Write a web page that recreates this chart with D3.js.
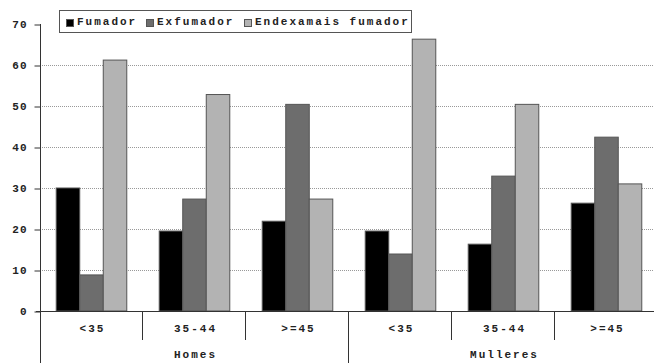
<!DOCTYPE html>
<html><head><meta charset="utf-8">
<script src="https://cdn.jsdelivr.net/npm/d3@7"></script>
<style>body{margin:0;background:#fff}svg{display:block}text{font-family:"Liberation Mono","DejaVu Sans Mono",monospace;font-weight:bold;fill:#222}</style>
</head><body><svg id="c" width="654" height="363"></svg>
<script>
const groups = ["Homes","Mulleres"];
const categories = ["<35","35-44",">=45"];
const series = ["Fumador","Exfumador","Endexamais fumador"];
const fumador =    [30.0, 19.5, 21.9, 19.5, 16.3, 26.3];
const exfumador =  [8.8, 27.3, 50.4, 13.9, 32.9, 42.4];
const endexamais = [61.2, 52.8, 27.3, 66.3, 50.4, 31.0];
const yTicks = [0,10,20,30,40,50,60,70];
const colors = ["#000000","#6d6d6d","#b3b3b3"];

(function(){
const svg = d3.select("#c");
const mLeft = 40, mRight = 658, mTop = 24, mBottom = 311, visRight = 654;
const y = d3.scaleLinear().domain([0,70]).range([mBottom, mTop]);
const keys = [];
groups.forEach(g => categories.forEach(c => keys.push(g + "|" + c)));
const x0 = d3.scaleBand().domain(keys).range([mLeft, mRight]).paddingInner(0).paddingOuter(0);
const x1 = d3.scaleBand().domain(series).range([0, x0.bandwidth()]).paddingInner(0).paddingOuter(0.69);

// gridlines
svg.append("g").selectAll("line").data(yTicks.filter(t => t > 0 && t < 70)).join("line")
  .attr("x1", mLeft).attr("x2", visRight).attr("y1", d => y(d)+0.5).attr("y2", d => y(d)+0.5)
  .attr("stroke", "#999").attr("stroke-width", 1).attr("stroke-dasharray", "1,1");

// bars
const data = [fumador, exfumador, endexamais];
keys.forEach((k, i) => {
  series.forEach((s, j) => {
    const v = data[j][i];
    svg.append("rect")
      .attr("x", x0(k) + x1(s)).attr("y", y(v))
      .attr("width", x1.bandwidth()).attr("height", y(0) - y(v))
      .attr("fill", colors[j]).attr("stroke", "#555").attr("stroke-width", 1);
  });
});

// y axis
const yAxis = d3.axisLeft(y).tickValues(yTicks).tickSize(6).tickPadding(7);
const ga = svg.append("g").attr("transform", `translate(${mLeft+0.5},0.5)`).call(yAxis);
ga.select(".domain").remove();
ga.selectAll(".tick line").attr("stroke", "#333");
ga.selectAll(".tick text").attr("font-size", 11).attr("dy", "0.25em")
  .style("font-family", '"Liberation Mono",monospace').style("font-weight","bold")
  .style("letter-spacing", "1px").attr("fill","#222");
svg.append("line").attr("x1", mLeft+0.5).attr("x2", mLeft+0.5).attr("y1", mTop).attr("y2", 363).attr("stroke", "#333");

// x axis line
svg.append("line").attr("x1", 36).attr("x2", visRight).attr("y1", mBottom+0.5).attr("y2", mBottom+0.5).attr("stroke", "#333");

// category separators and labels
keys.forEach((k, i) => {
  const xr = x0(k) + x0.bandwidth();
  const long = (i % 3 === 2);
  svg.append("line").attr("x1", Math.round(xr)-0.5).attr("x2", Math.round(xr)-0.5)
    .attr("y1", mBottom).attr("y2", long ? 363 : 340).attr("stroke", "#333");
  svg.append("text").attr("x", x0(k) + x0.bandwidth()/2 + 1).attr("y", 332)
    .attr("text-anchor", "middle").attr("font-size", 11).style("letter-spacing", "2px")
    .text(k.split("|")[1]);
});
groups.forEach((g, gi) => {
  const xs = x0(g + "|" + categories[0]);
  const xe = x0(g + "|" + categories[2]) + x0.bandwidth();
  svg.append("text").attr("x", (xs + xe)/2 + 1).attr("y", 358)
    .attr("text-anchor", "middle").attr("font-size", 11).style("letter-spacing", "2px").text(g);
});

// legend
const lg = svg.append("g");
lg.append("rect").attr("x", 59.5).attr("y", 10.5).attr("width", 352).attr("height", 22)
  .attr("fill", "#fff").attr("stroke", "#555");
const legX = [66, 146, 244];
series.forEach((s, j) => {
  lg.append("rect").attr("x", legX[j] + 0.5).attr("y", 19.5).attr("width", 7).attr("height", 7)
    .attr("fill", colors[j]).attr("stroke", "#555");
  lg.append("text").attr("x", legX[j] + 11).attr("y", 25).attr("font-size", 11)
    .style("letter-spacing", "2px").text(s);
});
})();
</script></body></html>
